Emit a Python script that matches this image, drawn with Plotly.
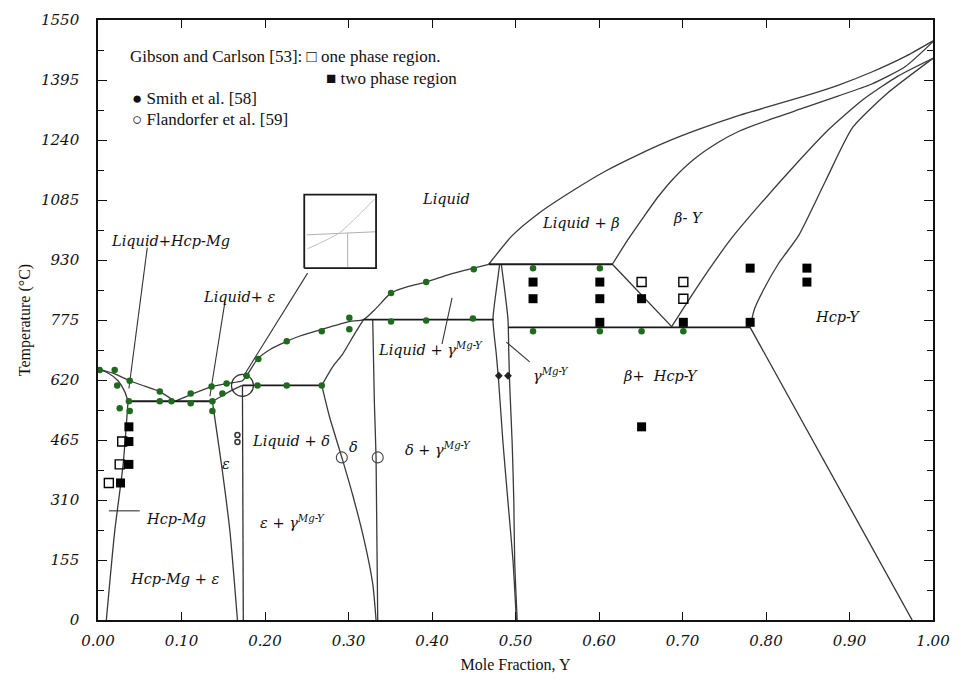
import plotly.graph_objects as go

# ---------------- phase boundaries: (mole fraction Y, temperature in °C) ----------------
mg_liquidus_x = [0.000, 0.020, 0.038, 0.056, 0.074, 0.092]
mg_liquidus_t = [648, 636, 618, 604, 590, 565]
mg_solidus_x = [0.000, 0.012, 0.024, 0.032, 0.036]
mg_solidus_t = [648, 638, 618, 590, 565]
mg_solvus_x = [0.036, 0.030, 0.020, 0.010]
mg_solvus_t = [565, 400, 229, 0]
mg_eutectic_x = [0.036, 0.137]
mg_eutectic_t = [565, 565]

main_liquidus_x = [0.092, 0.112, 0.136, 0.154, 0.173, 0.178, 0.191, 0.207, 0.226, 0.241,
                   0.268, 0.301, 0.318, 0.333, 0.351, 0.372, 0.393, 0.421, 0.450, 0.468]
main_liquidus_t = [565, 583, 603, 611, 618, 631, 674, 700, 720, 733,
                   751, 771, 776, 805, 845, 862, 873, 893, 909, 919]

eps_solidus_x = [0.137, 0.148, 0.160, 0.173]
eps_solidus_t = [565, 578, 593, 606]
eps_left_x = [0.137, 0.148, 0.158, 0.167]
eps_left_t = [565, 400, 229, 0]
eps_right_x = [0.173, 0.174]
eps_right_t = [606, 0]
eps_peritectic_x = [0.173, 0.268]
eps_peritectic_t = [606, 606]

delta_liquidus_x = [0.268, 0.281, 0.293, 0.307, 0.318]
delta_liquidus_t = [606, 654, 687, 738, 776]
delta_left_x = [0.268, 0.277, 0.292, 0.305, 0.319, 0.329, 0.333]
delta_left_t = [606, 527, 420, 323, 204, 94, 0]
delta_right_x = [0.329, 0.331, 0.333, 0.335]
delta_right_t = [776, 560, 420, 0]
gamma_peritectic_x = [0.318, 0.474]
gamma_peritectic_t = [776, 776]

gamma_left_x = [0.481, 0.477, 0.473, 0.477, 0.480, 0.485, 0.491, 0.497, 0.501]
gamma_left_t = [919, 853, 776, 687, 611, 458, 305, 153, 0]
gamma_right_x = [0.483, 0.487, 0.491, 0.492, 0.493, 0.496, 0.498, 0.499, 0.502]
gamma_right_t = [919, 853, 776, 687, 611, 458, 305, 153, 0]

beta_peritectic_x = [0.468, 0.616]
beta_peritectic_t = [919, 919]
eutectoid_x = [0.491, 0.781]
eutectoid_t = [756, 756]
beta_lower_x = [0.616, 0.687]
beta_lower_t = [919, 758]

beta_liquidus_x = [0.468, 0.496, 0.528, 0.567, 0.608, 0.648, 0.683, 0.720, 0.767, 0.806,
                   0.847, 0.887, 0.926, 0.967, 1.000]
beta_liquidus_t = [919, 993, 1051, 1107, 1160, 1203, 1237, 1268, 1303, 1328,
                   1354, 1382, 1415, 1456, 1496]
beta_solidus_x = [0.616, 0.636, 0.654, 0.671, 0.689, 0.713, 0.743, 0.767, 0.806, 0.847,
                  0.887, 0.926, 0.967, 1.000]
beta_solidus_t = [919, 987, 1043, 1094, 1140, 1189, 1234, 1262, 1294, 1324,
                  1354, 1384, 1430, 1494]
beta_hcp_x = [0.687, 0.707, 0.731, 0.759, 0.791, 0.833, 0.875, 0.916, 0.958, 1.000]
beta_hcp_t = [758, 825, 903, 987, 1069, 1171, 1267, 1344, 1405, 1451]
hcp_y_x = [0.781, 0.786, 0.797, 0.815, 0.839, 0.871, 0.904, 0.946, 1.000]
hcp_y_t = [756, 802, 853, 921, 993, 1133, 1273, 1362, 1451]
hcp_solvus_x = [0.781, 0.975]
hcp_solvus_t = [756, 0]

# leader lines
lead_liq_hcp_x = [0.059, 0.037]
lead_liq_hcp_t = [962, 598]
lead_liq_eps_x = [0.152, 0.134]
lead_liq_eps_t = [822, 578]
lead_inset_x = [0.251, 0.174]
lead_inset_t = [896, 629]
lead_hcp_mg_x = [0.013, 0.050]
lead_hcp_mg_t = [282, 282]
lead_liq_gamma_x = [0.412, 0.424]
lead_liq_gamma_t = [713, 832]
lead_gamma_x = [0.489, 0.517]
lead_gamma_t = [718, 667]

# inset (magnified view)
inset_box_x = [0.247, 0.333, 0.333, 0.247, 0.247]
inset_box_t = [909, 909, 1099, 1099, 909]
inset_h_x = [0.250, 0.333]
inset_h_t = [995, 1003]
inset_v_x = [0.299, 0.299]
inset_v_t = [1000, 911]
inset_d_x = [0.251, 0.289, 0.331]
inset_d_t = [959, 1000, 1087]

# ---------------- experimental points ----------------
smith_x = [0.002, 0.020, 0.023, 0.038, 0.026, 0.038, 0.037, 0.074, 0.074, 0.088,
           0.111, 0.111, 0.136, 0.137, 0.137, 0.154, 0.149, 0.178, 0.192, 0.191,
           0.226, 0.226, 0.268, 0.301, 0.301, 0.351, 0.393, 0.450, 0.268, 0.351,
           0.393, 0.449, 0.521, 0.601, 0.521, 0.601, 0.651, 0.701]
smith_t = [646, 646, 606, 618, 547, 540, 565, 590, 565, 565,
           585, 560, 603, 565, 540, 611, 585, 631, 674, 606,
           606, 720, 746, 781, 751, 845, 873, 906, 606, 771,
           774, 779, 909, 909, 746, 746, 746, 746]

gc_two_x = [0.037, 0.037, 0.037, 0.027, 0.521, 0.521, 0.601, 0.601, 0.601, 0.651,
            0.701, 0.781, 0.781, 0.849, 0.849, 0.651]
gc_two_t = [499, 461, 402, 354, 873, 830, 873, 830, 769, 830,
            769, 909, 769, 909, 873, 499]
gc_one_x = [0.029, 0.026, 0.013, 0.651, 0.701, 0.701]
gc_one_t = [461, 402, 354, 873, 873, 830]

flandorfer_x = [0.292, 0.335]
flandorfer_t = [420, 420]
eps_marks_x = [0.167, 0.167]
eps_marks_t = [478, 460]
gamma_marks_x = [0.480, 0.491]
gamma_marks_t = [631, 631]
focus_x = [0.173]
focus_t = [606]

x_ticks = [0.0, 0.1, 0.2, 0.3, 0.4, 0.5, 0.6, 0.7, 0.8, 0.9, 1.0]
x_ticktext = ["0.00", "0.10", "0.20", "0.30", "0.40", "0.50", "0.60", "0.70", "0.80", "0.90", "1.00"]
y_ticks = [0, 155, 310, 465, 620, 775, 930, 1085, 1240, 1395, 1550]
y_minor = [77.5, 232.5, 387.5, 542.5, 697.5, 852.5, 1007.5, 1162.5, 1317.5, 1472.5]

SERIF_IT = "DejaVu Serif, Liberation Serif, serif"
SERIF_UP = "Liberation Serif, DejaVu Serif, serif"
fig = go.Figure()


def add_line(xs, ts, width=1.3, color="#333333", shape="linear"):
    fig.add_trace(go.Scatter(x=xs, y=ts, mode="lines",
                             line=dict(color=color, width=width, shape=shape,
                                       smoothing=0.6 if shape == "spline" else None),
                             hoverinfo="skip", showlegend=False))


curves = [
    (mg_liquidus_x, mg_liquidus_t), (mg_solidus_x, mg_solidus_t), (mg_solvus_x, mg_solvus_t),
    (main_liquidus_x, main_liquidus_t), (eps_solidus_x, eps_solidus_t), (eps_left_x, eps_left_t),
    (delta_liquidus_x, delta_liquidus_t), (delta_left_x, delta_left_t), (delta_right_x, delta_right_t),
    (gamma_left_x, gamma_left_t), (gamma_right_x, gamma_right_t),
    (beta_liquidus_x, beta_liquidus_t), (beta_solidus_x, beta_solidus_t),
    (beta_hcp_x, beta_hcp_t), (hcp_y_x, hcp_y_t),
]
for xs, ts in curves:
    add_line(xs, ts, 1.3, "#3a3a3a", "spline")

straight = [
    (eps_right_x, eps_right_t), (beta_lower_x, beta_lower_t), (hcp_solvus_x, hcp_solvus_t),
]
for xs, ts in straight:
    add_line(xs, ts, 1.3, "#333333")

isotherms = [
    (mg_eutectic_x, mg_eutectic_t), (eps_peritectic_x, eps_peritectic_t),
    (gamma_peritectic_x, gamma_peritectic_t), (beta_peritectic_x, beta_peritectic_t),
    (eutectoid_x, eutectoid_t),
]
for xs, ts in isotherms:
    add_line(xs, ts, 1.9, "#1a1a1a")

leaders = [
    (lead_liq_hcp_x, lead_liq_hcp_t), (lead_liq_eps_x, lead_liq_eps_t), (lead_inset_x, lead_inset_t),
    (lead_hcp_mg_x, lead_hcp_mg_t), (lead_liq_gamma_x, lead_liq_gamma_t), (lead_gamma_x, lead_gamma_t),
]
for xs, ts in leaders:
    add_line(xs, ts, 1.1, "#333333")

add_line(inset_h_x, inset_h_t, 1.0, "#b0b0b0")
add_line(inset_v_x, inset_v_t, 1.0, "#b0b0b0")
add_line(inset_d_x, inset_d_t, 1.0, "#c0c0c0", "spline")
add_line(inset_box_x, inset_box_t, 1.8, "#1a1a1a")


def add_points(xs, ts, symbol, size, color, line_w=0, line_c=None):
    fig.add_trace(go.Scatter(x=xs, y=ts, mode="markers", cliponaxis=False,
                             marker=dict(symbol=symbol, size=size, color=color,
                                         line=dict(width=line_w, color=line_c or color)),
                             hoverinfo="skip", showlegend=False))


add_points(focus_x, focus_t, "circle-open", 22, "#333333", 1.2)
add_points(smith_x, smith_t, "circle", 6.5, "#1e6b1e")
add_points(gc_two_x, gc_two_t, "square", 9, "#000000")
add_points(gc_one_x, gc_one_t, "square-open", 9, "#000000", 1.4)
add_points(flandorfer_x, flandorfer_t, "circle-open", 11, "#444444", 1.1)
add_points(eps_marks_x, eps_marks_t, "circle-open", 5, "#333333", 1.5)
add_points(gamma_marks_x, gamma_marks_t, "diamond", 6, "#222222")

# ---------------- text ----------------
legend_notes = [
    (0.036, 1456, "Gibson and Carlson [53]: □ one phase region."),
    (0.271, 1400, "■ two phase region"),
    (0.038, 1346, "● Smith et al. [58]"),
    (0.038, 1293, "○ Flandorfer et al. [59]"),
]
for x, t, s in legend_notes:
    fig.add_annotation(x=x, y=t, text=s, showarrow=False, xanchor="left", yanchor="middle",
                       font=dict(family=SERIF_UP, size=17, color="#111111"))

G = "γ<sup>Mg-Y</sup>"
region_labels = [
    (0.417, 1087, "Liquid"),
    (0.087, 980, "Liquid+Hcp-Mg"),
    (0.170, 835, "Liquid+ ε"),
    (0.579, 1026, "Liquid + β"),
    (0.707, 1038, "β- Y"),
    (0.886, 784, "Hcp-Y"),
    (0.398, 700, "Liquid + " + G),
    (0.542, 634, G),
    (0.674, 631, "β+  Hcp-Y"),
    (0.231, 463, "Liquid + δ"),
    (0.306, 447, "δ"),
    (0.407, 443, "δ + " + G),
    (0.153, 402, "ε"),
    (0.233, 254, "ε + " + G),
    (0.093, 260, "Hcp-Mg"),
    (0.092, 107, "Hcp-Mg + ε"),
]
for x, t, s in region_labels:
    fig.add_annotation(x=x, y=t, text=s, showarrow=False, xanchor="center", yanchor="middle",
                       font=dict(family=SERIF_IT, size=14.5, color="#111111", style="italic"))

fig.update_layout(
    width=961, height=685,
    margin=dict(l=98, r=26, t=11, b=65),
    paper_bgcolor="white", plot_bgcolor="white",
    showlegend=False,
    xaxis=dict(range=[0, 1], tickvals=x_ticks, ticktext=x_ticktext,
               ticks="inside", ticklen=8, tickwidth=1.2, tickcolor="#111111",
               showline=True, linecolor="#111111", linewidth=1.8, mirror="ticks",
               showgrid=False, zeroline=False, ticklabelstandoff=6,
               tickfont=dict(family=SERIF_IT, size=15, color="#111111", style="italic"),
               title=dict(text="Mole Fraction, Y", standoff=10,
                          font=dict(family=SERIF_UP, size=16, color="#111111"))),
    yaxis=dict(range=[0, 1550], tickvals=y_ticks, ticktext=[str(v) for v in y_ticks],
               ticks="inside", ticklen=9, tickwidth=1.2, tickcolor="#111111",
               minor=dict(tickvals=y_minor, ticks="inside", ticklen=6, tickwidth=1.1,
                          tickcolor="#111111"),
               showline=True, linecolor="#111111", linewidth=1.6, mirror="ticks",
               showgrid=False, zeroline=False, ticklabelstandoff=14,
               tickfont=dict(family=SERIF_IT, size=15, color="#111111", style="italic"),
               title=dict(text="Temperature (°C)", standoff=6,
                          font=dict(family=SERIF_UP, size=16, color="#111111"))),
)

fig.write_html("out.html")
